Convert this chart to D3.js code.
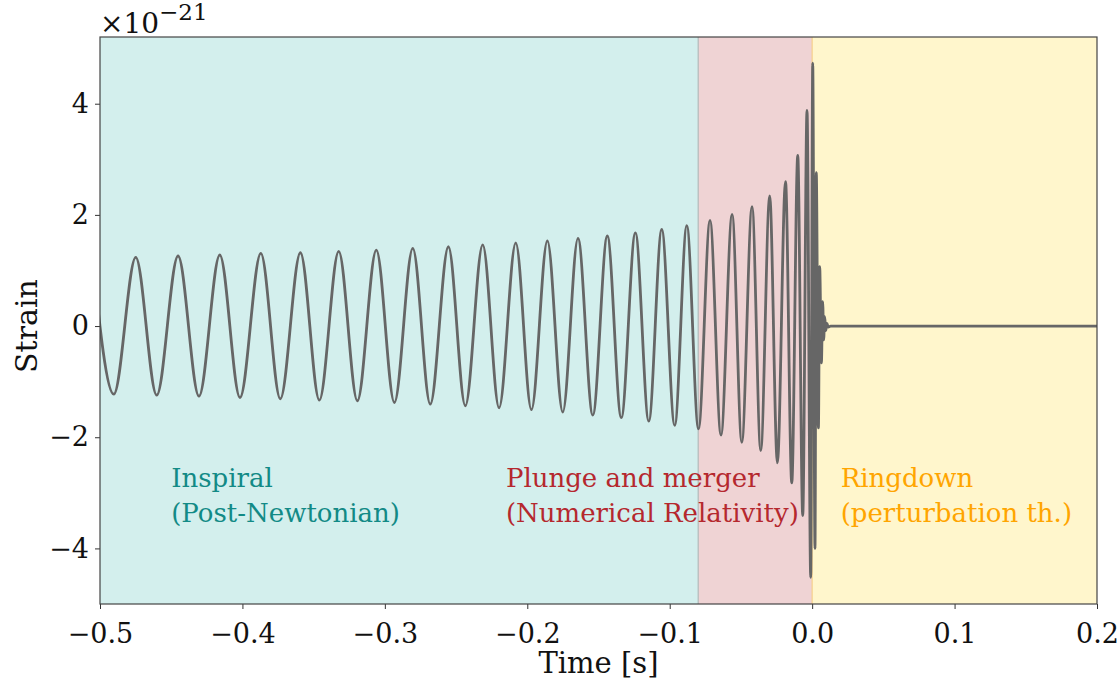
<!DOCTYPE html>
<html>
<head>
<meta charset="utf-8">
<script src="https://cdn.jsdelivr.net/npm/d3@7"></script>
<style>
  body { margin: 0; background: #fff; }
  svg { display: block; }
  text { font-family: "DejaVu Serif", serif; }
</style>
</head>
<body>
<svg width="1120" height="682"></svg>
<script>
// waveform extrema (time in s, strain in 1e-21)
var waveTime = [
  -0.5052, -0.4903, -0.4749, -0.4602, -0.4452, -0.4305, -0.4159, -0.4017,
  -0.3871, -0.3734, -0.3593, -0.3460, -0.3324, -0.3193, -0.3060, -0.2933,
  -0.2804, -0.2681, -0.2554, -0.2435, -0.2313, -0.2198, -0.2081, -0.1971,
  -0.1859, -0.1751, -0.1644, -0.1540, -0.1438, -0.1340, -0.1241, -0.1147,
  -0.1056, -0.0965, -0.0880, -0.0798, -0.0717, -0.0640, -0.0562, -0.0494,
  -0.0422, -0.0361, -0.0298, -0.0244, -0.0187, -0.0143, -0.0101, -0.0066,
  -0.0036, -0.0010, 0.0004, 0.0020, 0.0029, 0.0044, 0.0053, 0.0065,
  0.0074, 0.0081, 0.0088, 0.0096, 0.0104, 0.0113, 0.0130, 0.2
];
var waveStrain = [
  1.22, -1.226, 1.237, -1.244, 1.26, -1.262, 1.278, -1.285,
  1.308, -1.308, 1.319, -1.333, 1.344, -1.344, 1.367, -1.375,
  1.398, -1.405, 1.427, -1.434, 1.462, -1.470, 1.498, -1.505,
  1.534, -1.548, 1.577, -1.602, 1.62, -1.649, 1.677, -1.710,
  1.737, -1.787, 1.808, -1.85, 1.90, -1.96, 2.01, -2.09,
  2.15, -2.24, 2.34, -2.46, 2.60, -2.82, 3.07, -3.41,
  3.88, -4.52, 4.73, -4.00, 2.76, -1.83, 1.07, -0.66,
  0.44, -0.25, 0.17, -0.08, 0.05, -0.02, 0, 0
];

// phase bands and labels
var phaseNames = ["Inspiral", "Plunge and merger", "Ringdown"];
var phaseSub = ["(Post-Newtonian)", "(Numerical Relativity)", "(perturbation th.)"];
var phaseStart = [-0.5, -0.08, 0.0];
var phaseEnd = [-0.08, 0.0, 0.2];
var labelTime = [-0.45, -0.215, 0.02];
var phaseFill = ["#d3efed", "#efd3d4", "#fff6cc"];
var phaseText = ["#128a86", "#b5282e", "#ffa500"];

var xTicks = [-0.5, -0.4, -0.3, -0.2, -0.1, 0.0, 0.1, 0.2];
var yTicks = [-4, -2, 0, 2, 4];

var svg = d3.select("svg"),
margin = {top: 37, right: 23, bottom: 78, left: 100},
width = 1120 - margin.left - margin.right,
height = 682 - margin.top - margin.bottom,
g = svg.append("g").attr("transform", "translate(" + margin.left + "," + margin.top + ")");

var x = d3.scaleLinear()
.domain([-0.5, 0.2])
.range([0, width]);

var y = d3.scaleLinear()
.domain([-5, 5.2])
.range([height, 0]);

var fmtMinus = function(s) { return s.replace("-", "\u2212"); };

svg.append("defs").append("clipPath")
.attr("id", "clip")
.append("rect")
.attr("width", width)
.attr("height", height);

// background spans
for (var i = 0; i < phaseStart.length; i++) {
  g.append("rect")
  .attr("x", x(phaseStart[i]))
  .attr("y", 0)
  .attr("width", x(phaseEnd[i]) - x(phaseStart[i]))
  .attr("height", height)
  .attr("fill", phaseFill[i]);
}
g.append("line")
.attr("x1", x(-0.08)).attr("x2", x(-0.08))
.attr("y1", 0).attr("y2", height)
.attr("stroke", "#b2b9b9")
.attr("stroke-width", 1.2);
g.append("line")
.attr("x1", x(0)).attr("x2", x(0))
.attr("y1", 0).attr("y2", height)
.attr("stroke", "#f6cf8c")
.attr("stroke-width", 1.2);

// phase labels
for (var i = 0; i < phaseNames.length; i++) {
  var t = g.append("text")
  .attr("x", x(labelTime[i]))
  .attr("y", y(-2.9))
  .attr("fill", phaseText[i])
  .style("font-size", "26px");
  t.append("tspan").attr("x", x(labelTime[i])).text(phaseNames[i]);
  t.append("tspan").attr("x", x(labelTime[i])).attr("dy", 35).text(phaseSub[i]);
}

// waveform
var data = [];
for (var i = 0; i < waveTime.length; i++) {
  data.push({t: waveTime[i], h: waveStrain[i]});
}

var line = d3.line()
.curve(d3.curveMonotoneX)
.x(function(d) { return x(d.t); })
.y(function(d) { return y(d.h); });

g.append("path")
.datum(data)
.attr("clip-path", "url(#clip)")
.attr("fill", "none")
.attr("stroke", "#666666")
.attr("stroke-width", 2.8)
.attr("stroke-linejoin", "round")
.attr("d", line);

// axes
var xAxis = g.append("g")
.attr("transform", "translate(0," + height + ")")
.call(d3.axisBottom(x).tickValues(xTicks).tickSize(5).tickPadding(6)
  .tickFormat(function(d) { return fmtMinus(d3.format(".1f")(d)); }));

var yAxis = g.append("g")
.call(d3.axisLeft(y).tickValues(yTicks).tickSize(5).tickPadding(6)
  .tickFormat(function(d) { return fmtMinus(String(d)); }));

[xAxis, yAxis].forEach(function(a) {
  a.attr("font-family", null);
  a.select(".domain").remove();
  a.selectAll("line").attr("stroke", "#333");
  a.selectAll("text")
  .attr("fill", "#111")
  .style("font-size", "27px");
});
xAxis.selectAll("text").attr("dy", "1.05em");

g.append("rect")
.attr("width", width)
.attr("height", height)
.attr("fill", "none")
.attr("stroke", "#444")
.attr("stroke-width", 1.2);

// axis labels
svg.append("text")
.attr("x", margin.left + width / 2)
.attr("y", 673)
.attr("text-anchor", "middle")
.attr("fill", "#111")
.style("font-size", "29px")
.text("Time [s]");

svg.append("text")
.attr("transform", "translate(37," + (margin.top + y(0)) + ") rotate(-90)")
.attr("text-anchor", "middle")
.attr("fill", "#111")
.style("font-size", "30px")
.text("Strain");

// offset text
var off = svg.append("text")
.attr("x", margin.left)
.attr("y", 33)
.attr("fill", "#111")
.style("font-size", "28px");
off.append("tspan").text("\u00d710");
off.append("tspan").attr("dy", -13).style("font-size", "23px").text("\u221221");
</script>
</body>
</html>
